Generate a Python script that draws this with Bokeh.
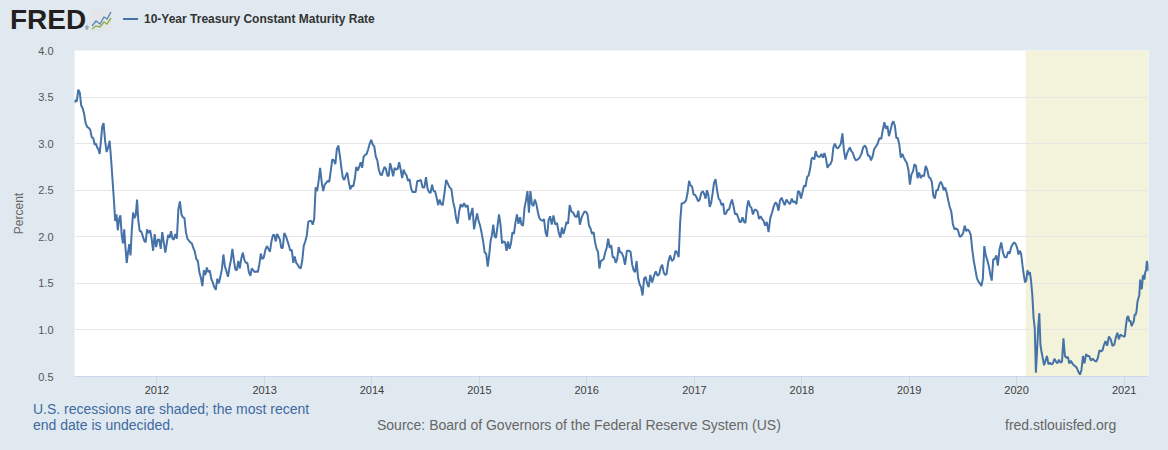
import pandas as pd
from bokeh.plotting import figure
from bokeh.layouts import column
from bokeh.models import (Range1d, FixedTicker, DatetimeTickFormatter, PrintfTickFormatter,
                          BoxAnnotation, ColumnDataSource, Div)
from bokeh.embed import file_html
from bokeh.resources import INLINE

# ---------------- data (10-Year Treasury Constant Maturity Rate, percent) ----------------
series_start = "2011-03-25"
series_end = "2021-03-26"
recession_start = "2020-02-01"

# one list per month; values spread evenly within the month
y2011 = [  # starts March 2011
    [3.44, 3.47],
    [3.45, 3.58, 3.55, 3.41, 3.38, 3.32],
    [3.22, 3.18, 3.17, 3.15, 3.07, 3.06],
    [2.99, 3.00, 2.96, 2.94, 2.89, 3.03, 3.18],
    [3.22, 3.03, 2.91, 2.96, 3.03, 2.82],
    [2.60, 2.40, 2.17, 2.24, 2.07, 2.19, 2.23],
    [2.02, 1.93, 2.08, 1.88, 1.72, 1.83, 1.92],
    [1.80, 2.08, 2.26, 2.20, 2.23, 2.40, 2.17],
    [2.06, 2.06, 2.01, 1.96, 1.94, 2.08],
    [2.04, 2.07, 1.98, 1.85, 2.03, 1.89],
]
y2012 = [
    [1.97, 1.97, 1.87, 2.05, 1.94, 1.83],
    [1.93, 2.02, 1.99, 2.06, 1.98, 1.97],
    [2.03, 1.98, 2.30, 2.38, 2.24, 2.21],
    [2.20, 2.05, 1.98, 1.96, 1.94, 1.93],
    [1.88, 1.84, 1.76, 1.74, 1.62, 1.56],
    [1.47, 1.64, 1.59, 1.67, 1.62, 1.64],
    [1.55, 1.51, 1.46, 1.43, 1.55, 1.50],
    [1.57, 1.65, 1.81, 1.68, 1.63, 1.57],
    [1.67, 1.75, 1.87, 1.75, 1.65, 1.64],
    [1.74, 1.66, 1.77, 1.83, 1.75, 1.72],
    [1.72, 1.62, 1.58, 1.66, 1.64, 1.62],
    [1.63, 1.62, 1.70, 1.82, 1.76, 1.78],
]
y2013 = [
    [1.86, 1.90, 1.87, 1.84, 1.95, 2.02],
    [2.02, 1.95, 2.03, 2.00, 1.97, 1.88],
    [1.88, 2.04, 2.01, 1.96, 1.91, 1.85],
    [1.86, 1.72, 1.79, 1.72, 1.70, 1.67],
    [1.66, 1.74, 1.90, 1.95, 2.01, 2.16],
    [2.17, 2.17, 2.13, 2.19, 2.53, 2.49],
    [2.60, 2.74, 2.59, 2.49, 2.56, 2.58],
    [2.60, 2.59, 2.71, 2.83, 2.82, 2.78],
    [2.94, 2.98, 2.88, 2.75, 2.64, 2.61],
    [2.65, 2.69, 2.59, 2.51, 2.55, 2.54],
    [2.62, 2.75, 2.71, 2.75, 2.80, 2.74],
    [2.86, 2.88, 2.89, 2.94, 3.00, 3.04],
]
y2014 = [
    [2.99, 2.97, 2.86, 2.82, 2.72, 2.67],
    [2.66, 2.71, 2.75, 2.73, 2.66, 2.65],
    [2.79, 2.73, 2.65, 2.74, 2.72, 2.73],
    [2.80, 2.72, 2.63, 2.72, 2.68, 2.66],
    [2.60, 2.62, 2.52, 2.48, 2.48, 2.48],
    [2.60, 2.60, 2.61, 2.53, 2.53],
    [2.64, 2.52, 2.48, 2.47, 2.56, 2.49],
    [2.49, 2.42, 2.34, 2.40, 2.35, 2.34],
    [2.46, 2.61, 2.57, 2.53, 2.51],
    [2.38, 2.31, 2.20, 2.14, 2.27, 2.35],
    [2.32, 2.36, 2.32, 2.34, 2.18],
    [2.25, 2.31, 2.08, 2.17, 2.25, 2.17],
]
y2015 = [
    [2.12, 2.04, 1.95, 1.83, 1.82, 1.68],
    [1.80, 1.95, 2.02, 2.13, 2.00, 1.99],
    [2.11, 2.24, 2.13, 1.93, 1.95, 1.94],
    [1.85, 1.95, 1.87, 1.93, 2.05, 2.03],
    [2.15, 2.24, 2.14, 2.21, 2.13, 2.12],
    [2.31, 2.39, 2.49, 2.26, 2.49, 2.35],
    [2.33, 2.40, 2.35, 2.26, 2.20, 2.18],
    [2.17, 2.19, 2.05, 2.00, 2.18, 2.22],
    [2.13, 2.23, 2.13, 2.15, 2.04],
    [1.99, 2.10, 2.03, 2.09, 2.16, 2.14],
    [2.34, 2.27, 2.26, 2.22, 2.21],
    [2.28, 2.13, 2.20, 2.24, 2.27, 2.27],
]
y2016 = [
    [2.24, 2.12, 2.09, 2.03, 2.05, 1.94],
    [1.87, 1.84, 1.66, 1.74, 1.75, 1.76],
    [1.83, 1.88, 1.98, 1.88, 1.91, 1.78],
    [1.78, 1.72, 1.76, 1.89, 1.83, 1.83],
    [1.79, 1.70, 1.85, 1.85, 1.84],
    [1.70, 1.64, 1.62, 1.74, 1.56, 1.49],
    [1.46, 1.37, 1.55, 1.57, 1.50, 1.46],
    [1.59, 1.51, 1.58, 1.63, 1.58],
    [1.60, 1.67, 1.70, 1.62, 1.59, 1.60],
    [1.73, 1.80, 1.74, 1.76, 1.85],
    [1.83, 1.78, 2.15, 2.36, 2.36, 2.37],
    [2.39, 2.47, 2.60, 2.55, 2.54, 2.45],
]
y2017 = [
    [2.45, 2.42, 2.38, 2.40, 2.47, 2.49],
    [2.46, 2.41, 2.50, 2.45, 2.32, 2.36],
    [2.46, 2.58, 2.62, 2.50, 2.41, 2.39],
    [2.34, 2.36, 2.24, 2.25, 2.29, 2.29],
    [2.35, 2.40, 2.33, 2.24, 2.25, 2.21],
    [2.16, 2.16, 2.21, 2.16, 2.15, 2.31],
    [2.39, 2.33, 2.31, 2.24, 2.29, 2.29],
    [2.27, 2.19, 2.22, 2.19, 2.17, 2.12],
    [2.16, 2.05, 2.20, 2.26, 2.33],
    [2.37, 2.35, 2.28, 2.39, 2.42, 2.38],
    [2.34, 2.40, 2.37, 2.35, 2.41],
    [2.37, 2.38, 2.35, 2.49, 2.48, 2.41],
]
y2018 = [
    [2.48, 2.55, 2.54, 2.64, 2.66, 2.73],
    [2.84, 2.85, 2.83, 2.92, 2.87, 2.86],
    [2.86, 2.89, 2.85, 2.90, 2.84, 2.74],
    [2.77, 2.78, 2.82, 2.96, 3.00, 2.96],
    [2.95, 2.97, 3.00, 3.11, 2.93, 2.83],
    [2.89, 2.93, 2.96, 2.92, 2.90, 2.85],
    [2.82, 2.83, 2.85, 2.89, 2.96],
    [2.98, 2.95, 2.87, 2.87, 2.82, 2.86],
    [2.94, 2.97, 3.00, 3.06, 3.05],
    [3.15, 3.23, 3.16, 3.19, 3.08, 3.14],
    [3.21, 3.24, 3.19, 3.06, 3.06, 2.99],
    [2.85, 2.89, 2.85, 2.82, 2.79, 2.72],
]
y2019 = [
    [2.56, 2.67, 2.70, 2.78, 2.76, 2.63],
    [2.69, 2.63, 2.66, 2.65, 2.76],
    [2.72, 2.64, 2.63, 2.59, 2.44, 2.41],
    [2.50, 2.50, 2.56, 2.59, 2.56, 2.50],
    [2.53, 2.47, 2.39, 2.32, 2.27, 2.14],
    [2.08, 2.09, 2.07, 2.00, 2.01],
    [2.04, 2.12, 2.06, 2.08, 2.06, 2.02],
    [1.86, 1.74, 1.65, 1.56, 1.52, 1.50],
    [1.47, 1.55, 1.90, 1.80, 1.75, 1.69],
    [1.60, 1.53, 1.76, 1.76, 1.80, 1.69],
    [1.86, 1.94, 1.83, 1.78, 1.78],
    [1.84, 1.82, 1.89, 1.92, 1.94, 1.92],
]
y2020 = [
    [1.88, 1.81, 1.85, 1.82, 1.70, 1.60, 1.51],
    [1.53, 1.64, 1.59, 1.62, 1.52, 1.37, 1.13],
    [1.02, 0.54, 0.77, 1.02, 1.18, 0.84, 0.76, 0.70],
    [0.62, 0.67, 0.72, 0.63, 0.65, 0.63],
    [0.64, 0.69, 0.66, 0.64, 0.68, 0.65],
    [0.66, 0.91, 0.72, 0.70, 0.71, 0.64],
    [0.67, 0.64, 0.62, 0.61, 0.59, 0.55],
    [0.52, 0.57, 0.72, 0.64, 0.74, 0.72],
    [0.72, 0.67, 0.69, 0.67, 0.66],
    [0.70, 0.78, 0.77, 0.78, 0.84, 0.88],
    [0.83, 0.93, 0.90, 0.83, 0.84],
    [0.92, 0.97, 0.90, 0.95, 0.94, 0.93],
]
y2021 = [
    [0.93, 1.04, 1.13, 1.15, 1.09, 1.10, 1.04, 1.07],
    [1.09, 1.17, 1.16, 1.20, 1.30, 1.34, 1.37, 1.54, 1.44],
    [1.45, 1.57, 1.59, 1.54, 1.62, 1.64, 1.74, 1.70, 1.63],
]
years = [(2011, 3, y2011), (2012, 1, y2012), (2013, 1, y2013), (2014, 1, y2014),
         (2015, 1, y2015), (2016, 1, y2016), (2017, 1, y2017), (2018, 1, y2018),
         (2019, 1, y2019), (2020, 1, y2020), (2021, 1, y2021)]

x_tick_years = [2012, 2013, 2014, 2015, 2016, 2017, 2018, 2019, 2020, 2021]
y_ticks = [0.5, 1.0, 1.5, 2.0, 2.5, 3.0, 3.5, 4.0]

series_name = "10-Year Treasury Constant Maturity Rate"
note_line1 = "U.S. recessions are shaded; the most recent"
note_line2 = "end date is undecided."
source_text = "Source: Board of Governors of the Federal Reserve System (US)"
site_text = "fred.stlouisfed.org"

# ---------------- build series ----------------
s0, s1 = pd.Timestamp(series_start), pd.Timestamp(series_end)
dates, vals = [], []
for yr, m0, months in years:
    for k, mv in enumerate(months):
        a = pd.Timestamp(year=yr, month=m0 + k, day=1)
        b = a + pd.offsets.MonthBegin(1)
        a, b = max(a, s0), min(b, s1)
        n = len(mv)
        for i, v in enumerate(mv):
            dates.append(a + (b - a) * ((i + 0.5) / n))
            vals.append(v)
src = ColumnDataSource(dict(date=dates, value=vals))

# ---------------- figure ----------------
BG = "#e1e9f0"
FONT = "Liberation Sans"
LINE = "#4572a7"
W = 1168
HEAD_H, FIG_H, FOOT_H = 42, 358, 50

p = figure(width=W, height=FIG_H, x_axis_type="datetime",
           x_range=Range1d(dates[0], dates[-1]), y_range=Range1d(y_ticks[0], y_ticks[-1]),
           output_backend="svg", toolbar_location=None,
           min_border_left=74, min_border_right=20, min_border_top=8, min_border_bottom=24,
           background_fill_color="white", border_fill_color=BG, outline_line_color=None)

p.add_layout(BoxAnnotation(left=pd.Timestamp(recession_start), fill_color="#f3f2da",
                           fill_alpha=1.0, line_color=None, level="image"))

p.line("date", "value", source=src, line_color=LINE, line_width=2)

p.xgrid.grid_line_color = None
p.ygrid.grid_line_color = "#e6e6e6"
p.ygrid.ticker = FixedTicker(ticks=y_ticks)

yax = p.yaxis[0]
yax.ticker = FixedTicker(ticks=y_ticks)
yax.formatter = PrintfTickFormatter(format="%.1f")
yax.axis_line_color = None
yax.major_tick_line_color = None
yax.minor_tick_line_color = None
yax.major_label_text_font = FONT
yax.major_label_text_font_size = "11px"
yax.major_label_text_color = "#555555"
yax.major_label_standoff = 15
yax.axis_label = "Percent"
yax.axis_label_text_font = FONT
yax.axis_label_text_font_size = "12px"
yax.axis_label_text_font_style = "normal"
yax.axis_label_text_color = "#666666"
yax.axis_label_standoff = 9

xax = p.xaxis[0]
xax.ticker = FixedTicker(ticks=[pd.Timestamp(f"{y}-01-01").value // 10**6 for y in x_tick_years])
xax.formatter = DatetimeTickFormatter(years="%Y", months="%Y", days="%Y", hours="%Y")
xax.axis_line_color = "#ccd6eb"
xax.major_tick_line_color = "#ccd6eb"
xax.major_tick_out = 10
xax.major_tick_in = 0
xax.minor_tick_line_color = None
xax.major_label_text_font = FONT
xax.major_label_text_font_size = "11px"
xax.major_label_text_color = "#3d3d3d"
xax.major_label_standoff = -1

# ---------------- header (logo + legend) and footer ----------------
ff = "font-family:'Liberation Sans',Arial,sans-serif;"
header_html = f"""
<div style="position:relative;width:{W}px;height:{HEAD_H}px;{ff}">
  <span style="position:absolute;left:10px;top:6px;font-size:28px;line-height:28px;font-weight:bold;color:#231f20;white-space:nowrap;">FRED</span>
  <span style="position:absolute;left:85px;top:26px;font-size:5px;line-height:5px;color:#231f20;">&reg;</span>
  <div style="position:absolute;left:90px;top:9px;width:22px;height:22px;background:#e3e6e9;border-radius:2px;">
    <svg width="22" height="22" viewBox="0 0 22 22" style="position:absolute;left:0;top:0;">
      <polyline points="2,17 6,12 10,15 14,8 17,10 21,3" fill="none" stroke="#5b86b8" stroke-width="1.4"/>
      <polyline points="2,20 6,17 10,18 14,13 17,15 21,9" fill="none" stroke="#8cb04f" stroke-width="1.4"/>
    </svg>
  </div>
  <div style="position:absolute;left:123px;top:18px;width:15px;height:2px;background:{LINE};"></div>
  <span style="position:absolute;left:144px;top:12px;font-size:12px;line-height:14px;font-weight:bold;color:#333333;white-space:nowrap;">{series_name}</span>
</div>
"""
footer_html = f"""
<div style="position:relative;width:{W}px;height:{FOOT_H}px;{ff}font-size:14px;line-height:16px;white-space:nowrap;">
  <span style="position:absolute;left:33px;top:1px;color:#3e6aa1;">{note_line1}</span>
  <span style="position:absolute;left:33px;top:17px;color:#3e6aa1;">{note_line2}</span>
  <span style="position:absolute;left:377px;top:17px;color:#666666;">{source_text}</span>
  <span style="position:absolute;left:1005px;top:17px;color:#666666;">{site_text}</span>
</div>
"""
header = Div(text=header_html, width=W, height=HEAD_H, margin=0,
             styles={"background-color": BG})
footer = Div(text=footer_html, width=W, height=FOOT_H, margin=0,
             styles={"background-color": BG})

page = column(header, p, footer, spacing=0, margin=0, styles={"background-color": BG})

page_css = "{% block preamble %}<style>html, body { background-color: #e1e9f0; }</style>{% endblock %}"
open("out.html", "w").write(file_html(page, INLINE, template=page_css))
